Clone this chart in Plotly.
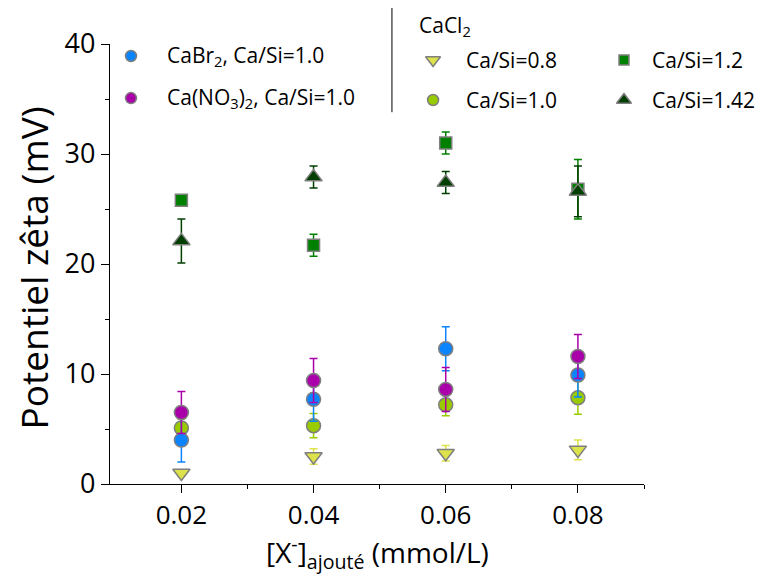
import plotly.graph_objects as go

# ---- data ----
x_conc = [0.02, 0.04, 0.06, 0.08]
x_ticklabels = ["0.02", "0.04", "0.06", "0.08"]
y_ticks = [0, 10, 20, 30, 40]

cabr2_10 = [4.0, 7.7, 12.3, 9.9]
cabr2_10_err = [2.0, 2.0, 2.0, 2.0]
cano3_10 = [6.5, 9.4, 8.6, 11.6]
cano3_10_err = [1.9, 2.0, 2.0, 2.0]
cacl2_08 = [1.0, 2.5, 2.8, 3.1]
cacl2_08_err = [0.3, 0.7, 0.7, 0.9]
cacl2_10 = [5.1, 5.3, 7.2, 7.85]
cacl2_10_err = [0.8, 1.1, 1.0, 1.5]
cacl2_12 = [25.8, 21.7, 31.0, 26.8]
cacl2_12_err = [0.3, 1.0, 1.0, 2.7]
cacl2_142 = [22.1, 27.9, 27.4, 26.6]
cacl2_142_err = [2.0, 1.0, 1.0, 2.3]

FONT = "Open Sans"
EDGE = "#7F7F7F"
C_BLUE = "#0A84FF"
C_MAG = "#AA00AA"
C_YEL = "#DCE24A"
C_LIME = "#99CC00"
C_GREEN = "#008000"
C_DARK = "#003F00"

series = [
    (cacl2_08, cacl2_08_err, C_YEL, "triangle-down", 15),
    (cacl2_12, cacl2_12_err, C_GREEN, "square", 12),
    (cacl2_142, cacl2_142_err, C_DARK, "triangle-up", 15),
    (cacl2_10, cacl2_10_err, C_LIME, "circle", 14),
    (cabr2_10, cabr2_10_err, C_BLUE, "circle", 14),
    (cano3_10, cano3_10_err, C_MAG, "circle", 14),
]

fig = go.Figure()
for ys, es, col, sym, sz in series:
    fig.add_trace(go.Scatter(
        x=x_conc, y=ys, mode="markers",
        marker=dict(symbol=sym, size=sz, color=col, line=dict(color=EDGE, width=1.5)),
        error_y=dict(type="data", array=es, color=col, thickness=1.5, width=4),
        showlegend=False, cliponaxis=False,
    ))

# ---- manual legend (paper-fraction overlay axes) ----
leg_items = [
    (0.0393, 0.9727, C_BLUE, "circle", 11),
    (0.0393, 0.877, C_MAG, "circle", 11),
    (0.605, 0.9636, C_YEL, "triangle-down", 13),
    (0.605, 0.8727, C_LIME, "circle", 11),
    (0.9625, 0.9636, C_GREEN, "square", 10),
    (0.9625, 0.8727, C_DARK, "triangle-up", 13),
]
for lx, ly, col, sym, sz in leg_items:
    fig.add_trace(go.Scatter(
        x=[lx], y=[ly], xaxis="x2", yaxis="y2", mode="markers",
        marker=dict(symbol=sym, size=sz, color=col, line=dict(color=EDGE, width=1.5)),
        showlegend=False, cliponaxis=False, hoverinfo="skip",
    ))

leg_texts = [
    (0.103, 0.9727, "CaBr<sub>2</sub>, Ca/Si=1.0"),
    (0.103, 0.877, "Ca(NO<sub>3</sub>)<sub>2</sub>, Ca/Si=1.0"),
    (0.575, 1.042, "CaCl<sub>2</sub>"),
    (0.663, 0.9636, "Ca/Si=0.8"),
    (0.663, 0.8727, "Ca/Si=1.0"),
    (1.012, 0.9636, "Ca/Si=1.2"),
    (1.012, 0.8727, "Ca/Si=1.42"),
]
annotations = []
for tx, ty, t in leg_texts:
    annotations.append(dict(x=tx, y=ty, xref="paper", yref="paper", text=t,
                            showarrow=False, xanchor="left", yanchor="middle",
                            font=dict(family=FONT, size=21, color="black")))

annotations.append(dict(x=0.5, y=0, xref="paper", yref="paper",
                        text="[X<sup>-</sup>]<sub>ajouté</sub> (mmol/L)",
                        showarrow=False, xanchor="center", yanchor="middle", yshift=-68,
                        font=dict(family=FONT, size=28, color="black")))
annotations.append(dict(x=0, y=0.49, xref="paper", yref="paper",
                        text="Potentiel zêta (mV)", textangle=-90,
                        showarrow=False, xanchor="center", yanchor="middle", xshift=-77,
                        font=dict(family=FONT, size=37, color="black")))

fig.update_layout(
    width=759, height=567,
    margin=dict(l=102, r=123, t=36, b=91),
    paper_bgcolor="white", plot_bgcolor="white",
    font=dict(family=FONT, color="black"),
    annotations=annotations,
    shapes=[dict(type="line", xref="paper", yref="paper", x0=0.528, x1=0.528,
                 y0=0.845, y1=1.1, line=dict(color="black", width=1))],
    xaxis=dict(range=[0.0092, 0.09], tickvals=x_conc, ticktext=x_ticklabels,
               showline=True, linecolor="black", linewidth=1.3, ticks="outside",
               ticklen=8, tickwidth=1.3, tickcolor="black",
               minor=dict(tickvals=[0.03, 0.05, 0.07, 0.09], ticklen=4, ticks="outside",
                          tickcolor="black", tickwidth=1.3),
               showgrid=False, zeroline=False, tickfont=dict(family=FONT, size=26)),
    yaxis=dict(range=[0, 40], tickvals=y_ticks,
               showline=True, linecolor="black", linewidth=1.3, ticks="outside",
               ticklen=8, tickwidth=1.3, tickcolor="black",
               minor=dict(dtick=5, ticklen=4, ticks="outside", tickcolor="black", tickwidth=1.3),
               showgrid=False, zeroline=False, tickfont=dict(family=FONT, size=27)),
    xaxis2=dict(range=[0, 1], overlaying="x", visible=False, fixedrange=True),
    yaxis2=dict(range=[0, 1], overlaying="y", visible=False, fixedrange=True),
)

fig.write_html("out.html")
